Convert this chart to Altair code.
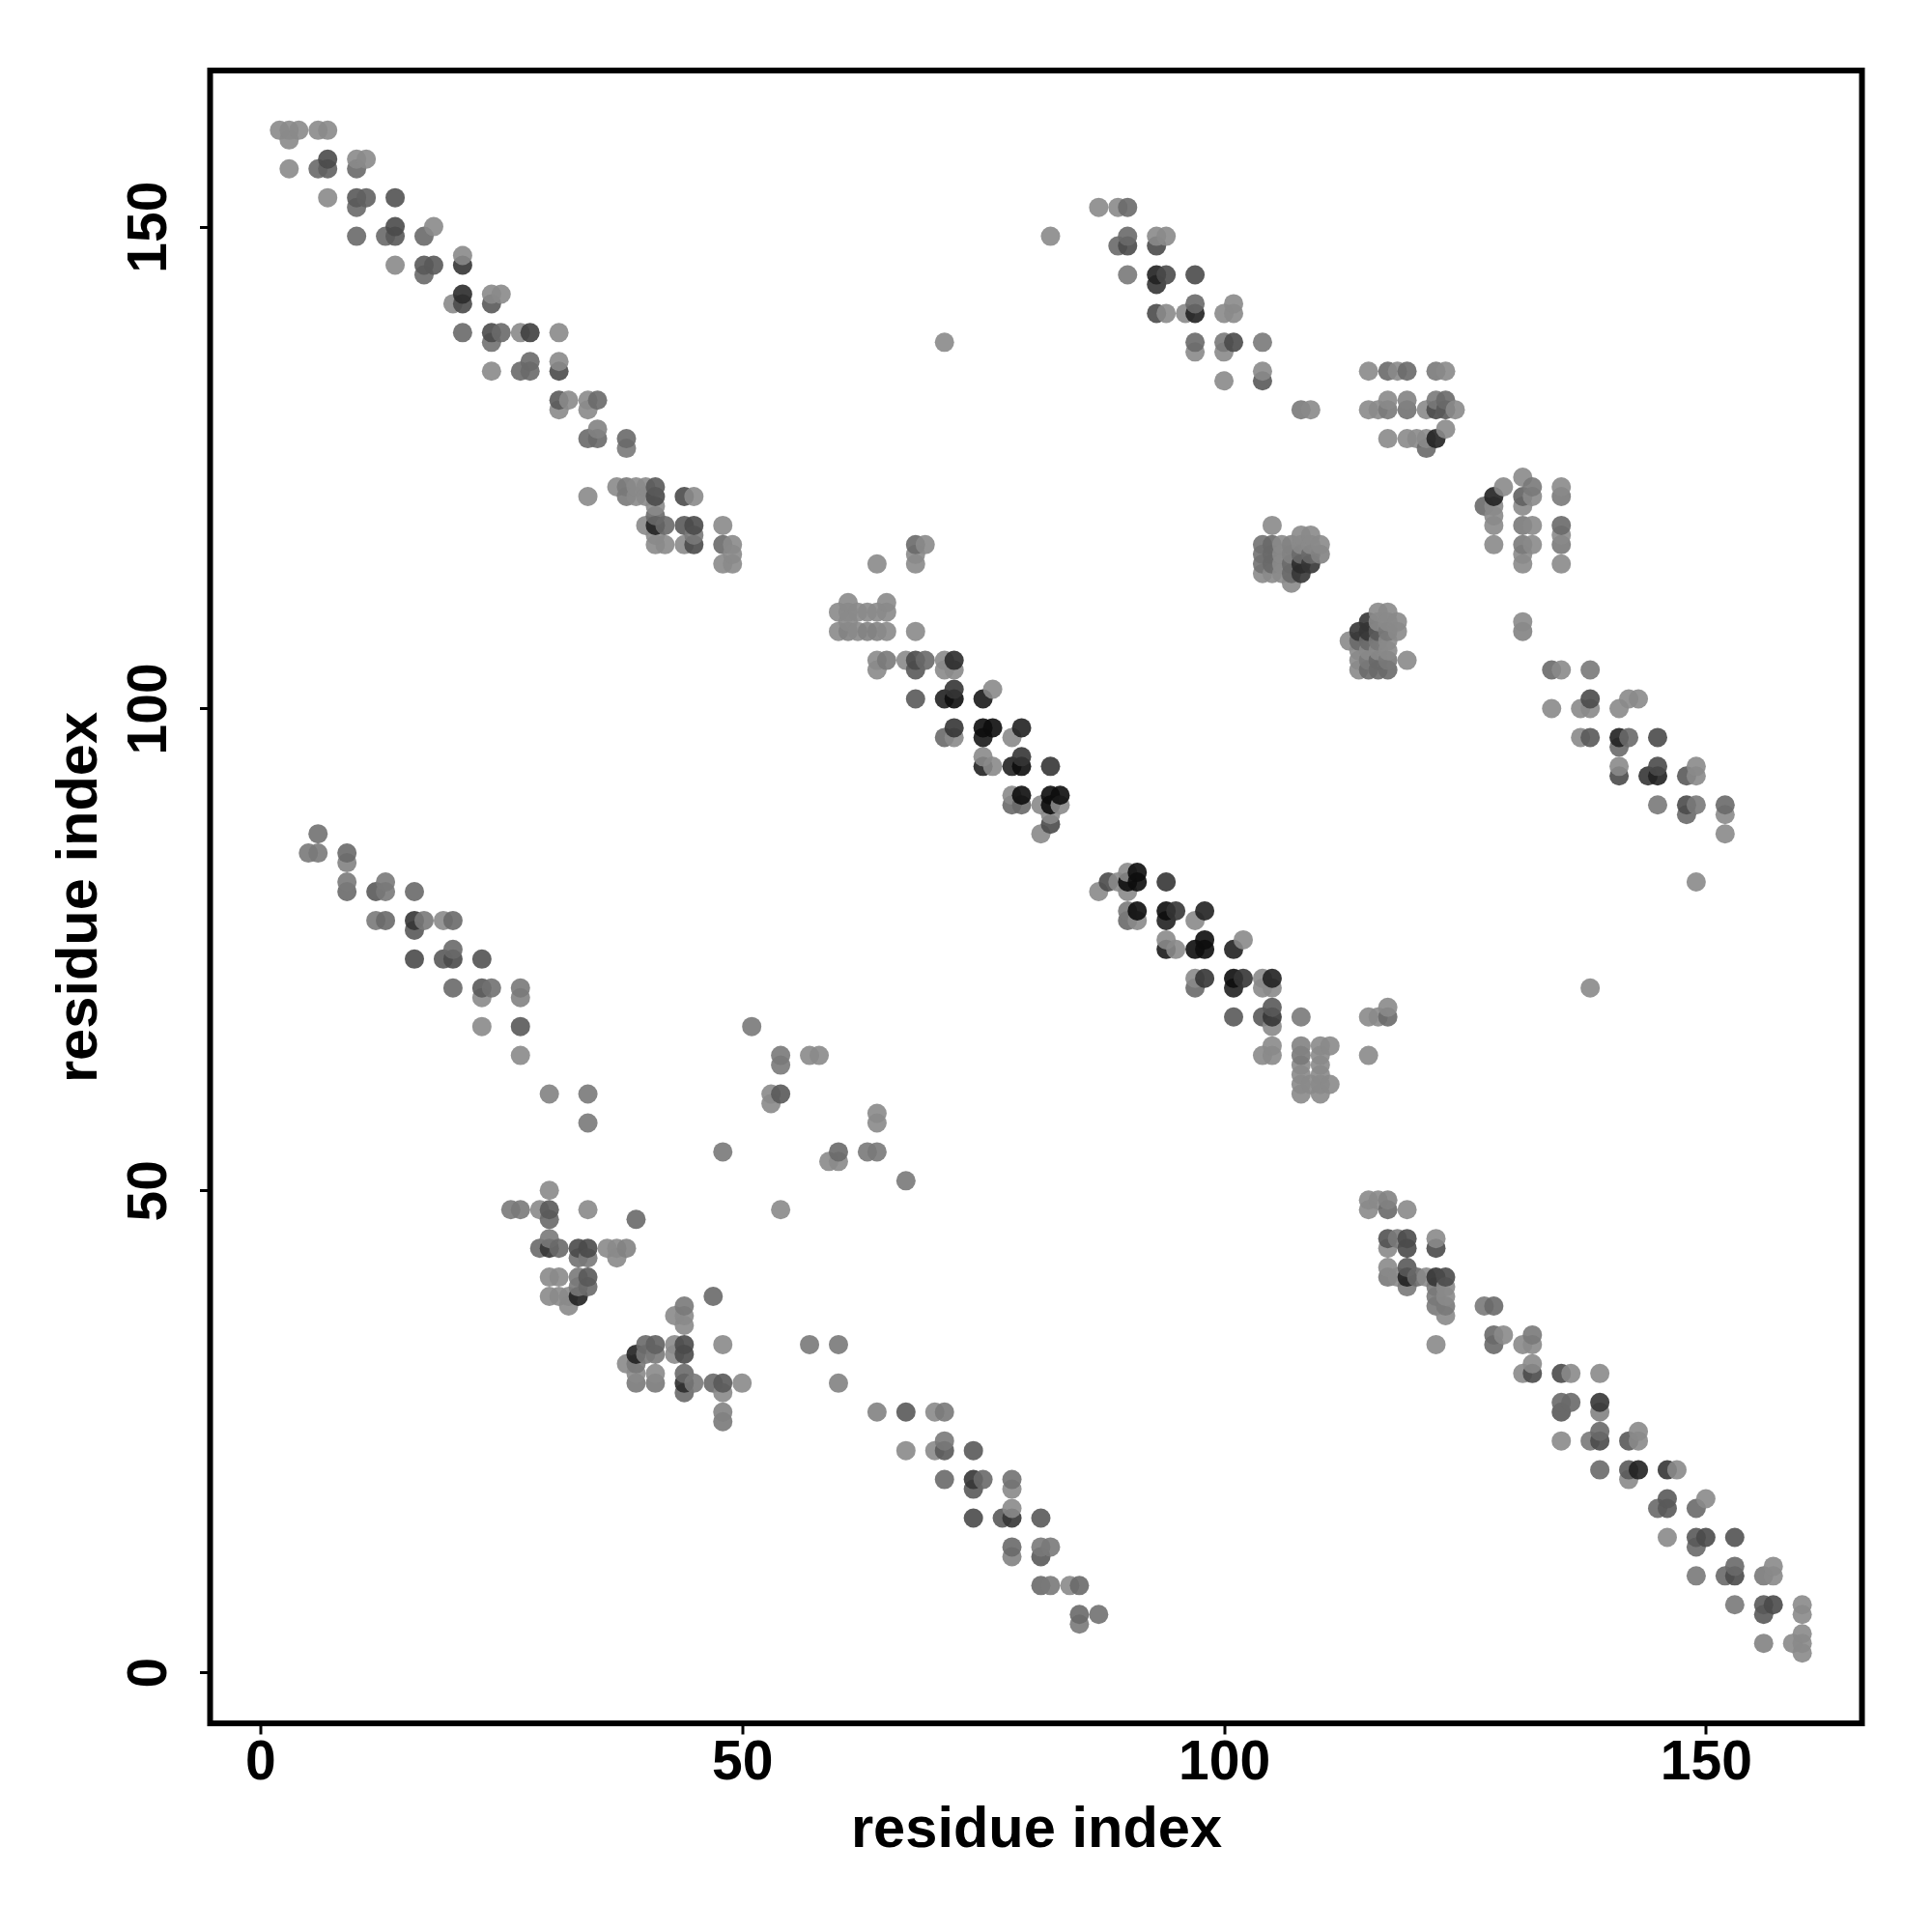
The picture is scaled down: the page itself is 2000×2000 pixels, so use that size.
import altair as alt
import pandas as pd

# contact points as (residue i, residue j, darkness score)
band_top_left = [
(2,160,1),(3,160,1),(4,160,1),(6,160,1),(7,160,1),(3,159,1),
(7,157,5),(10,157,1),(11,157,1),(3,156,1),(6,156,3),(7,156,3.5),(10,156,3),
(7,153,1),(10,153,4),(11,153,3.5),(14,153,4.5),(10,152,3),
(14,150,5),(18,150,1),(10,149,3),(13,149,3),(14,149,4),(17,149,3),
(21,147,1),(14,146,1),(17,146,4),(18,146,4),(21,146,6),(17,145,3),
(21,143,6.5),(24,143,1),(25,143,1),(20,142,1),(21,142,5),(24,142,4),
(21,139,3),(24,139,5),(25,139,3),(27,139,1),(28,139,5.5),(31,139,1),(24,138,2.5),
(28,136,3),(31,136,1),(24,135,1),(27,135,3),(28,135,3),(31,135,5),
(31,132,4),(32,132,1),(34,132,1),(35,132,3),(31,131,1),(34,131,1),
(35,129,1.5),(34,128,3),(35,128,3),(38,128,3),(38,127,2),
(37,123,1),(38,123,2),(39,123,1),(40,123,1),(41,123,4),
(34,122,1),(38,122,2),(39,122,1),(40,122,1),(41,122,5),(44,122,5),(45,122,1),
(41,121,1),(41,120,3),(40,119,1),(41,119,7),(42,119,3),(44,119,4),(45,119,5),(48,119,1),
(41,118,1),(45,118,2),(41,117,1),(42,117,1),(44,117,1),(45,117,5),(48,117,3),(49,117,1),
(49,116,1),(48,115,1),(49,115,1),
]

band_centre_upper = [
(68,117,3),(69,117,1),(68,116,1),(64,115,1),(68,115,1),
(61,111,1),(65,111,1),(60,110,1),(61,110,1),(62,110,1),(63,110,1),(64,110,1),(65,110,1),(61,109,1),
(60,108,1),(61,108,1.5),(62,108,1),(63,108,1.5),(64,108,1.5),(65,108,1),(68,108,1),
(64,105,1),(65,105,2),(67,105,1),(68,105,5),(69,105,3),(71,105,1),(72,105,6.5),
(64,104,1),(68,104,4),(71,104,1),(72,104,1),(72,102,6),(76,102,1),
(68,101,4),(71,101,7),(72,101,8),(75,101,7.5),
(72,98,6),(75,98,8),(76,98,8),(79,98,7),(71,97,3),(72,97,1),(75,97,7.5),(78,97,1),
(75,95,1),(79,95,6),(75,94,7),(76,94,1),(78,94,7),(79,94,8),(82,94,6),
(78,91,1),(79,91,8),(82,91,8),(83,91,8),(78,90,3),(79,90,3),(81,90,1),(82,90,8),(83,90,1),
(82,89,1),(82,88,5),(81,87,1),
]

band_centre_lower = [
(90,83,1),(91,83,8),(88,82,5),(89,82,1),(90,82,8),(91,82,8),(94,82,6),(87,81,1),(90,81,1),
(90,79,2),(91,79,8),(94,79,8),(95,79,6),(98,79,7),(90,78,3),(91,78,1),(94,78,7),(97,78,1),
(94,76,1),(98,76,8),(102,76,1),(94,75,7.5),(95,75,1),(97,75,8),(98,75,8),(101,75,7),
(97,72,1),(98,72,6),(101,72,8),(102,72,6),(104,72,1),(105,72,7),
(97,71,3),(101,71,7),(104,71,1),(105,71,1),(105,69,4),(117,69,1),
(101,68,4),(104,68,4),(105,68,6),(108,68,2),(115,68,1),(116,68,1),(117,68,3),(105,67,1),
(105,65,1),(108,65,1.5),(110,65,1),(111,65,1),(104,64,1),(105,64,1),(108,64,2),(110,64,1),(115,64,1),
(108,63,1),(110,63,1),(108,62,1),(110,62,1),(108,61,1),(109,61,1),(110,61,1),(111,61,1),(108,60,1),(110,60,1),
(138,71,1),
]

band_top_right = [
(87,152,1),(89,152,1),(90,152,3),(82,149,1),(90,149,3),(93,149,1),(94,149,1),
(89,148,3),(90,148,5),(93,148,5),(90,145,2),(93,145,7),(94,145,5),(97,145,5),(93,144,6),
(97,142,3),(101,142,1),(93,141,5),(94,141,1),(96,141,1),(97,141,7),(100,141,1),(101,141,1),
(97,138,3),(100,138,2),(101,138,5),(104,138,2),(97,137,1),(100,137,1),(71,138,1),
(104,135,1),(115,135,1),(117,135,3),(118,135,1),(119,135,3),(122,135,2),(123,135,1),
(100,134,1),(104,134,4),(117,132,1),(119,132,1.5),(122,132,2),(123,132,3),
(108,131,2),(109,131,1),(115,131,1),(116,131,1),(117,131,2),(119,131,2.5),(121,131,1),(122,131,5),(123,131,4),(124,131,1),
(123,129,1),(117,128,1),(119,128,1),(120,128,1),(121,128,1),(122,128,7),(121,127,3),
]

cluster_a = [
(105,119,1),(108,118,1),(109,118,1),
(104,117,2.5),(105,117,3),(106,117,1),(107,117,1.5),(108,117,1),(109,117,1),(110,117,1),
(104,116,2.5),(105,116,3),(106,116,1),(107,116,1.5),(108,116,3),(109,116,3),(110,116,1.5),
(104,115,2.5),(105,115,3),(106,115,1),(107,115,3),(108,115,6.5),(109,115,6),
(104,114,1),(105,114,1),(106,114,1),(107,114,3),(108,114,6),(107,113,1),
]

cluster_b = [
(116,110,1),(117,110,1),(115,109,6),(116,109,1),(117,109,1),(118,109,1),
(114,108,6),(115,108,6),(116,108,4),(117,108,2),(118,108,1),
(113,107,1),(114,107,3),(115,107,3),(116,107,2),(117,107,1),
(114,106,1),(115,106,1),(116,106,1),(117,106,1),
(114,105,1),(115,105,2),(116,105,3),(117,105,2),(119,105,1),
(114,104,1),(115,104,3),(116,104,3),(117,104,3),
]

band_right = [
(131,124,1),(129,123,1),(132,123,2),(135,123,1),(128,122,7),(131,122,3.5),(132,122,1),(135,122,2),
(127,121,3),(128,121,1),(131,121,1),(128,120,1),(128,119,1),(131,119,2),(132,119,1),(135,119,3),
(135,118,1),(128,117,1),(131,117,2),(132,117,1),(135,117,2),(131,116,1),(131,115,1),(135,115,1),
(131,109,1),(131,108,1.5),(134,104,3),(135,104,1),(138,104,2),
(138,101,5),(142,101,1),(143,101,1),(134,100,1),(137,100,1),(138,100,1),(141,100,1),
(137,97,1),(138,97,4),(141,97,7),(142,97,3),(145,97,5),(141,96,3),
(141,94,1),(145,94,5),(149,94,1),(141,93,5),(144,93,6),(145,93,7),(148,93,4),(149,93,1),
(145,90,2),(148,90,5),(149,90,2),(152,90,3),(148,89,3),(152,89,1),(152,87,1),(149,82,1),
]

band_lower_left = [
(6,87,2.5),(5,85,2),(6,85,2),(9,85,3),(9,84,1.5),(9,82,2),(13,82,2),
(9,81,3),(12,81,4),(13,81,2),(16,81,3),
(12,78,2),(13,78,3),(16,78,6),(17,78,2),(19,78,1),(20,78,3),(16,77,4),(20,75,3),
(16,74,5),(19,74,4),(20,74,5),(23,74,4.5),(20,71,3),(23,71,4),(24,71,2.5),(27,71,2),
(23,70,1),(27,70,1.5),(23,67,1),(27,67,4),(51,67,2),(27,64,1),(30,60,1.5),(34,60,2),(34,57,2),(48,54,2),
]

band_lower_mid = [
(54,64,2),(57,64,1),(58,64,1),(54,63,2),(53,60,1),(54,60,4),(53,59,1),(64,58,1),(64,57,1),
(60,54,3),(63,54,2),(64,54,2),(59,53,1),(60,53,1),(67,51,2),
(30,50,1),(26,48,2),(27,48,2),(29,48,1),(30,48,4),(34,48,1),(54,48,1),(30,47,3),(39,47,3),(30,45,2),
(29,44,3),(30,44,6),(31,44,3),(33,44,5),(34,44,5),(36,44,1),(37,44,1),(38,44,1.5),
(33,43,2.5),(34,43,2),(37,43,1),(30,41,1),(31,41,1),(33,41,2),(34,41,4),(33,40,2),(34,40,3),
(30,39,1),(31,39,1),(32,39,1),(33,39,7),(47,39,3),(32,38,1),(44,38,2),(43,37,1),(44,37,1),(44,36,1),
(40,34,3),(41,34,3.5),(43,34,1),(44,34,5),(48,34,1),(57,34,2),(60,34,2),
(39,33,7),(40,33,2),(41,33,2),(43,33,1),(44,33,5),(38,32,1),(39,32,2),(39,31,1),(41,31,1),(44,31,3),
(39,30,2),(41,30,2),(44,30,6.5),(45,30,2),(47,30,3),(48,30,4),(50,30,1),(60,30,1.5),(44,29,3),(48,29,1),
(48,27,1.5),(48,26,2),
]

band_bottom_mid = [
(64,27,1.5),(67,27,4),(70,27,1),(71,27,2),(71,24,2),(67,23,1),(70,23,1),(71,23,4),(74,23,4),
(71,20,3),(74,20,6),(75,20,3),(78,20,2.5),(74,19,4),(78,19,1),(78,17,1),
(74,16,5),(77,16,4),(78,16,6),(81,16,4),(78,13,3),(81,13,2),(82,13,2),(78,12,1.5),(81,12,4),
(81,9,3),(82,9,2),(84,9,1),(85,9,3),(85,6,3),(87,6,2.5),(85,5,2),
]

band_bottom_right = [
(115,49,1),(116,49,1),(117,49,1.5),(115,48,1),(117,48,3),(119,48,1),
(117,45,4.5),(118,45,2),(119,45,5),(122,45,1),(117,44,1),(119,44,5),(122,44,5),(117,42,1),(119,42,4),
(117,41,2),(118,41,1),(119,41,7),(120,41,3),(121,41,1),(122,41,6),(123,41,5),
(119,40,2),(122,40,2),(123,40,1),(122,39,2),(123,39,1),(122,38,2),(123,38,2),(123,37,1),(127,38,2),(128,38,3),
(128,35,3),(129,35,1),(132,35,2),(122,34,1),(128,34,3),(131,34,1),(132,34,1),(132,32,1),
(131,31,1),(132,31,5),(135,31,5),(136,31,1),(139,31,1),(135,28,3),(136,28,3),(139,28,6),(135,27,4),(139,27,1.5),
(139,25,3),(143,25,1),(135,24,1),(138,24,2),(139,24,5),(142,24,4),(143,24,1),
(139,21,3),(142,21,4),(143,21,7),(146,21,6),(147,21,1),(142,20,1),(146,18,4),(150,18,1),(145,17,3),(146,17,4),(149,17,3),
(146,14,1),(149,14,4),(150,14,5),(153,14,4.5),(149,13,3),(153,11,3),(157,11,1),
(149,10,2),(152,10,3),(153,10,5),(156,10,2),(157,10,1),(153,7,2),(156,7,4),(157,7,5),(160,7,1),(156,6,4),(160,6,1),
(160,4,1),(156,3,1.5),(159,3,1),(160,3,1),(160,2,1),
]

tick_values = [0, 50, 100, 150]
axis_title = "residue index"

rows = (band_top_left + band_centre_upper + band_centre_lower + band_top_right + cluster_a
        + cluster_b + band_right + band_lower_left + band_lower_mid + band_bottom_mid + band_bottom_right)
df = pd.DataFrame(rows, columns=["i", "j", "score"]).sort_values(["i", "j"])

FONT = "Liberation Sans"

def make_axis(extra):
    return alt.Axis(
        values=tick_values, title=axis_title, grid=False, domain=False,
        tickColor="black", tickWidth=3, tickSize=11,
        labelFont=FONT, labelFontWeight="bold", labelFontSize=57, labelColor="black",
        titleFont=FONT, titleFontWeight="bold", titleFontSize=59.6, titleColor="black",
        labelFlush=False, labelOverlap=False, **extra)

chart = (
    alt.Chart(df)
    .mark_circle(size=400, opacity=0.9)
    .encode(
        x=alt.X("i:Q", scale=alt.Scale(domain=[-5.2, 166.2], nice=False, zero=False),
                axis=make_axis(dict(labelPadding=1, titlePadding=12))),
        y=alt.Y("j:Q", scale=alt.Scale(domain=[-5.3, 166.2], nice=False, zero=False),
                axis=make_axis(dict(labelAngle=270, labelAlign="center", labelBaseline="bottom",
                                    labelPadding=23, titlePadding=13))),
        color=alt.Color("score:Q", scale=alt.Scale(domain=[1, 5, 8.4], range=["#8a8a8a", "#4a4a4a", "#000000"]), legend=None),
    )
    .properties(width=1710, height=1711, background="white",
                padding={"left": 43.5, "top": 65, "right": 5, "bottom": 5})
    .configure_view(stroke="black", strokeWidth=6)
)

chart.save("out.html", embed_options={"renderer": "svg", "actions": False})
